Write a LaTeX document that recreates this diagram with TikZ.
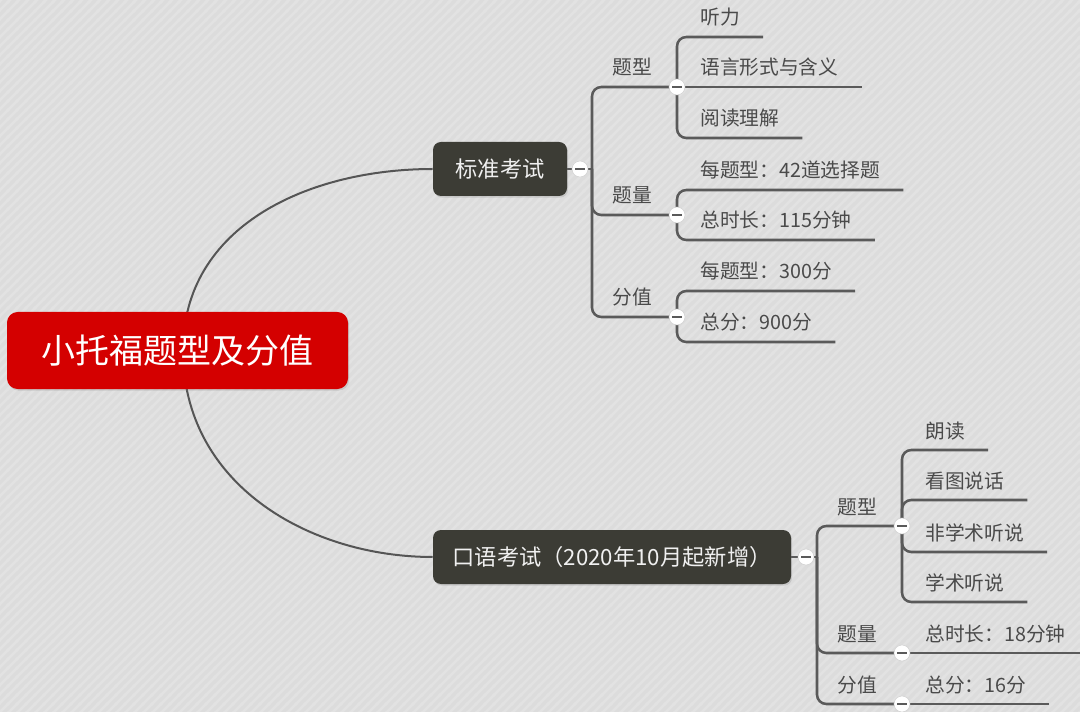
\documentclass[tikz,border=0pt]{standalone}
\usepackage{fontspec}
\setmainfont{Noto Sans CJK SC}
\usetikzlibrary{patterns.meta,shadows}
\definecolor{bgc}{HTML}{DCDCDC}
\definecolor{stripec}{HTML}{E2E2E2}
\definecolor{rootred}{HTML}{D40000}
\definecolor{darkbox}{HTML}{3C3C35}
\definecolor{brc}{HTML}{5A5A5A}
\definecolor{txtc}{HTML}{4A4A4A}
\pgfdeclarelayer{back}
\pgfdeclarelayer{mid}
\pgfsetlayers{back,mid,main}
\tikzdeclarepattern{
  name=bgstripe,
  type=uncolored,
  bounding box={(0,0) and (7pt,7pt)},
  tile size={(7pt,7pt)},
  code={
    \draw[line width=2pt] (-1pt,-1pt) -- (8pt,8pt);
    \draw[line width=2pt] (-1pt,6pt) -- (1pt,8pt);
    \draw[line width=2pt] (6pt,-1pt) -- (8pt,1pt);
  }
}
\begin{document}
\begin{tikzpicture}[x=0.75pt,y=-0.75pt,
  rootbox/.style={rectangle, rounded corners=8pt, fill=rootred, text=white,
    minimum width=255.75pt, minimum height=57.75pt, inner sep=0pt,
    font=\fontsize{25.5pt}{30pt}\selectfont, text height=22.4pt, text depth=3.1pt,
    drop shadow={shadow xshift=0.8pt, shadow yshift=-1.2pt, opacity=0.25}},
  lvone/.style={rectangle, rounded corners=6pt, fill=darkbox, text=white!94!black,
    minimum height=40.5pt, inner sep=0pt,
    font=\fontsize{16.7pt}{20pt}\selectfont, text height=14.7pt, text depth=2pt,
    drop shadow={shadow xshift=0.8pt, shadow yshift=-1.2pt, opacity=0.25}},
  lvtwo/.style={anchor=south west, inner xsep=15pt, inner ysep=7pt, text=txtc,
    font=\fontsize{14.8pt}{18pt}\selectfont, text height=13pt, text depth=1.8pt},
  lvthree/.style={anchor=south west, inner xsep=17.25pt, inner ysep=7pt, text=txtc,
    font=\fontsize{14.8pt}{18pt}\selectfont, text height=13pt, text depth=1.8pt},
  br/.style={draw=brc, line width=1.9pt, rounded corners=7pt},
  curvec/.style={draw=brc!95!black, line width=1.5pt},
  tog/.style={circle, fill=white, draw=black!18, line width=0.4pt,
    minimum size=12pt, inner sep=0pt,
    path picture={\draw[line width=1.5pt, brc]
      ([xshift=-3.6pt]path picture bounding box.center) --
      ([xshift=3.6pt]path picture bounding box.center);}}
]
\useasboundingbox (0,0) rectangle (1080,712);
\begin{pgfonlayer}{back}
  \fill[bgc] (0,0) rectangle (1080,712);
  \fill[pattern={bgstripe}, pattern color=stripec] (0,0) rectangle (1080,712);
\end{pgfonlayer}

% main nodes
\node[rootbox] (root) at (177.5,350.5) {小托福题型及分值};
\node[lvone, minimum width=100.5pt] (std) at (500,169) {标准考试};
\node[lvone, minimum width=268.5pt] (oral) at (612,557) {口语考试（2020年10月起新增）};

% standard exam branches
\node[lvtwo] (s-tx) at (592,87) {题型};
\node[lvtwo] (s-tl) at (592,215) {题量};
\node[lvtwo] (s-fz) at (592,317) {分值};
\node[lvthree] (s-tx1) at (677,37) {听力};
\node[lvthree] (s-tx2) at (677,87) {语言形式与含义};
\node[lvthree] (s-tx3) at (677,138) {阅读理解};
\node[lvthree] (s-tl1) at (677,190) {每题型：42道选择题};
\node[lvthree] (s-tl2) at (677,240) {总时长：115分钟};
\node[lvthree] (s-fz1) at (677,291) {每题型：300分};
\node[lvthree] (s-fz2) at (677,342) {总分：900分};

% oral exam branches
\node[lvtwo] (o-tx) at (817,526) {题型};
\node[lvtwo] (o-tl) at (817,653) {题量};
\node[lvtwo] (o-fz) at (817,704) {分值};
\node[lvthree] (o-tx1) at (902,450) {朗读};
\node[lvthree] (o-tx2) at (902,500) {看图说话};
\node[lvthree] (o-tx3) at (902,552) {非学术听说};
\node[lvthree] (o-tx4) at (902,602) {学术听说};
\node[lvthree] (o-tl1) at (902,653) {总时长：18分钟};
\node[lvthree] (o-fz1) at (902,704) {总分：16分};

% junction coordinates
\coordinate (rc) at (183,350.5);
\coordinate (sk) at (580,169);
\coordinate (sj) at (592,169);
\coordinate (sc1) at (677,87);
\coordinate (sc2) at (677,215);
\coordinate (sc3) at (677,317);
\coordinate (ok) at (806,557);
\coordinate (oj) at (817,557);
\coordinate (oc1) at (902,526);
\coordinate (oc2) at (902,653);
\coordinate (oc3) at (902,704);

\begin{pgfonlayer}{mid}
  \draw[curvec] (rc) .. controls (183,225) and (310,169) .. (std.west);
  \draw[curvec] (rc) .. controls (183,485) and (310,557) .. (oral.west);
  % standard
  \draw[br] (std.east) -- (sj);
  \draw[br] (sj) |- (sc1);
  \draw[br] (sj) |- (sc2);
  \draw[br] (sj) |- (sc3);
  \draw[br] (sc1) |- (s-tx1.south east);
  \draw[br] (sc1) -- (s-tx2.south east);
  \draw[br] (sc1) |- (s-tx3.south east);
  \draw[br] (sc2) |- (s-tl1.south east);
  \draw[br] (sc2) |- (s-tl2.south east);
  \draw[br] (sc3) |- (s-fz1.south east);
  \draw[br] (sc3) |- (s-fz2.south east);
  % oral
  \draw[br] (oral.east) -- (oj);
  \draw[br] (oj) |- (oc1);
  \draw[br] (oj) |- (oc2);
  \draw[br] (oj) |- (oc3);
  \draw[br] (oc1) |- (o-tx1.south east);
  \draw[br] (oc1) |- (o-tx2.south east);
  \draw[br] (oc1) |- (o-tx3.south east);
  \draw[br] (oc1) |- (o-tx4.south east);
  \draw[br] (oc2) -- (o-tl1.south east);
  \draw[br] (oc3) -- (o-fz1.south east);
\end{pgfonlayer}

% collapse toggles
\node[tog] (t-std) at (sk) {};
\node[tog] (t-s1) at (sc1) {};
\node[tog] (t-s2) at (sc2) {};
\node[tog] (t-s3) at (sc3) {};
\node[tog] (t-oral) at (ok) {};
\node[tog] (t-o1) at (oc1) {};
\node[tog] (t-o2) at (oc2) {};
\node[tog] (t-o3) at (oc3) {};
\end{tikzpicture}
\end{document}
